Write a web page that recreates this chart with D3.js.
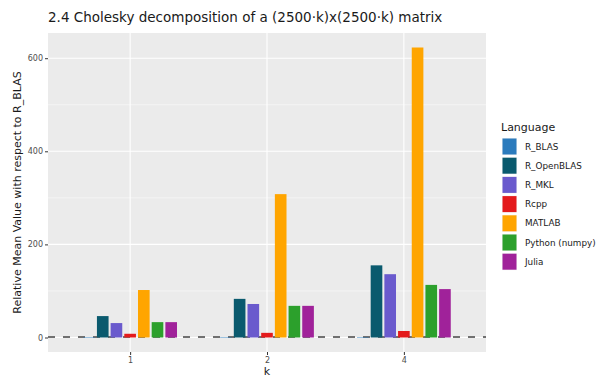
<!DOCTYPE html>
<html>
<head>
<meta charset="utf-8">
<script src="https://cdn.jsdelivr.net/npm/d3@7"></script>
<style>
  body { margin: 0; background: #fff; }
  text { font-family: "DejaVu Sans", sans-serif; }
</style>
</head>
<body>
<div id="chart"></div>
<script>
// data
let ks = ["1", "2", "4"];
let languages = ["R_BLAS", "R_OpenBLAS", "R_MKL", "Rcpp", "MATLAB", "Python (numpy)", "Julia"];
let colors = ["#2b7bbd", "#0a5a6e", "#6a5acd", "#e41a1c", "#ffa500", "#2ca02c", "#a0229a"];
let values = {
    "R_BLAS":         [1, 1, 1],
    "R_OpenBLAS":     [46, 83, 155],
    "R_MKL":          [31, 72, 136],
    "Rcpp":           [8, 10, 14],
    "MATLAB":         [102, 308, 623],
    "Python (numpy)": [33, 68, 113],
    "Julia":          [33, 68, 104]
};
let yTicks = [0, 200, 400, 600];
let yMinor = [100, 300, 500];

let width = 598, height = 377;
let margin = {top: 33, right: 112, bottom: 25, left: 48};

let svg = d3.select("#chart")
    .append("svg")
    .attr("width", width)
    .attr("height", height);

let pw = width - margin.left - margin.right;
let ph = height - margin.top - margin.bottom;

let g = svg.append("g")
    .attr("transform", `translate(${margin.left},${margin.top})`);

let ymax = 623;
let y = d3.scaleLinear()
    .domain([-0.05 * ymax, ymax * 1.05])
    .range([ph, 0]);

// discrete scale with ggplot-like 0.6 expansion
let x = d3.scalePoint()
    .domain(ks)
    .range([pw * 0.6 / 3.2, pw * 2.6 / 3.2]);
let unit = pw / 3.2;

let x1 = d3.scaleBand()
    .domain(languages)
    .range([-unit * 0.35, unit * 0.35])
    .paddingInner(0.15)
    .paddingOuter(0.075);

let color = d3.scaleOrdinal().domain(languages).range(colors);

// panel
g.append("rect")
    .attr("width", pw)
    .attr("height", ph)
    .attr("fill", "#ebebeb");

g.selectAll(".minor")
    .data(yMinor)
    .enter().append("line")
    .attr("x1", 0).attr("x2", pw)
    .attr("y1", d => y(d)).attr("y2", d => y(d))
    .attr("stroke", "#fff").attr("stroke-width", 0.5);

g.selectAll(".major")
    .data(yTicks)
    .enter().append("line")
    .attr("x1", 0).attr("x2", pw)
    .attr("y1", d => y(d)).attr("y2", d => y(d))
    .attr("stroke", "#fff").attr("stroke-width", 1.1);

g.selectAll(".vmajor")
    .data(ks)
    .enter().append("line")
    .attr("x1", d => x(d)).attr("x2", d => x(d))
    .attr("y1", 0).attr("y2", ph)
    .attr("stroke", "#fff").attr("stroke-width", 1.1);

// reference line at 1
g.append("line")
    .attr("x1", 0).attr("x2", pw)
    .attr("y1", y(1)).attr("y2", y(1))
    .attr("stroke", "#707070")
    .attr("stroke-width", 2)
    .attr("stroke-dasharray", "7,8");

// bars
let rows = [];
languages.forEach(function(l) {
    ks.forEach(function(k, i) {
        rows.push({lang: l, k: k, v: values[l][i]});
    });
});

g.selectAll(".bar")
    .data(rows)
    .enter().append("rect")
    .attr("x", d => x(d.k) + x1(d.lang))
    .attr("width", x1.bandwidth())
    .attr("y", d => y(d.v))
    .attr("height", d => y(0) - y(d.v))
    .attr("fill", d => color(d.lang));

// axes
let yAxis = g.append("g")
    .call(d3.axisLeft(y).tickValues(yTicks).tickSize(3).tickPadding(2));
let xAxis = g.append("g")
    .attr("transform", `translate(0,${ph})`)
    .call(d3.axisBottom(x).tickSize(3).tickPadding(2));

[yAxis, xAxis].forEach(function(a) {
    a.select(".domain").remove();
    a.selectAll(".tick line").attr("stroke", "#333");
    a.selectAll(".tick text")
        .attr("fill", "#4d4d4d")
        .style("font-size", "8px")
        .style("font-family", "DejaVu Sans");
});

// titles
svg.append("text")
    .attr("x", margin.left)
    .attr("y", 22)
    .style("font-size", "13.5px")
    .attr("fill", "#1a1a1a")
    .text("2.4 Cholesky decomposition of a (2500\u00b7k)x(2500\u00b7k) matrix");

svg.append("text")
    .attr("x", margin.left + pw / 2)
    .attr("y", height - 2)
    .style("text-anchor", "middle")
    .style("font-size", "11px")
    .attr("fill", "#1a1a1a")
    .text("k");

svg.append("text")
    .attr("transform", `translate(21,${margin.top + ph / 2}) rotate(-90)`)
    .style("text-anchor", "middle")
    .style("font-size", "11px")
    .attr("fill", "#1a1a1a")
    .text("Relative Mean Value with respect to R_BLAS");

// legend
let legend = svg.append("g")
    .attr("transform", "translate(501,131)");

legend.append("text")
    .attr("x", 0)
    .attr("y", 0)
    .style("font-size", "11px")
    .attr("fill", "#1a1a1a")
    .text("Language");

let items = legend.selectAll(".item")
    .data(languages)
    .enter().append("g")
    .attr("transform", (d, i) => `translate(1,${7 + i * 19.2})`);

items.append("rect")
    .attr("width", 15)
    .attr("height", 17)
    .attr("fill", "#f2f2f2");
items.append("rect")
    .attr("x", 0.5).attr("y", 0.5)
    .attr("width", 14)
    .attr("height", 16)
    .attr("fill", d => color(d));

items.append("text")
    .attr("x", 23)
    .attr("y", 11.5)
    .style("font-size", "8.8px")
    .attr("fill", "#1a1a1a")
    .text(d => d);
</script>
</body>
</html>
